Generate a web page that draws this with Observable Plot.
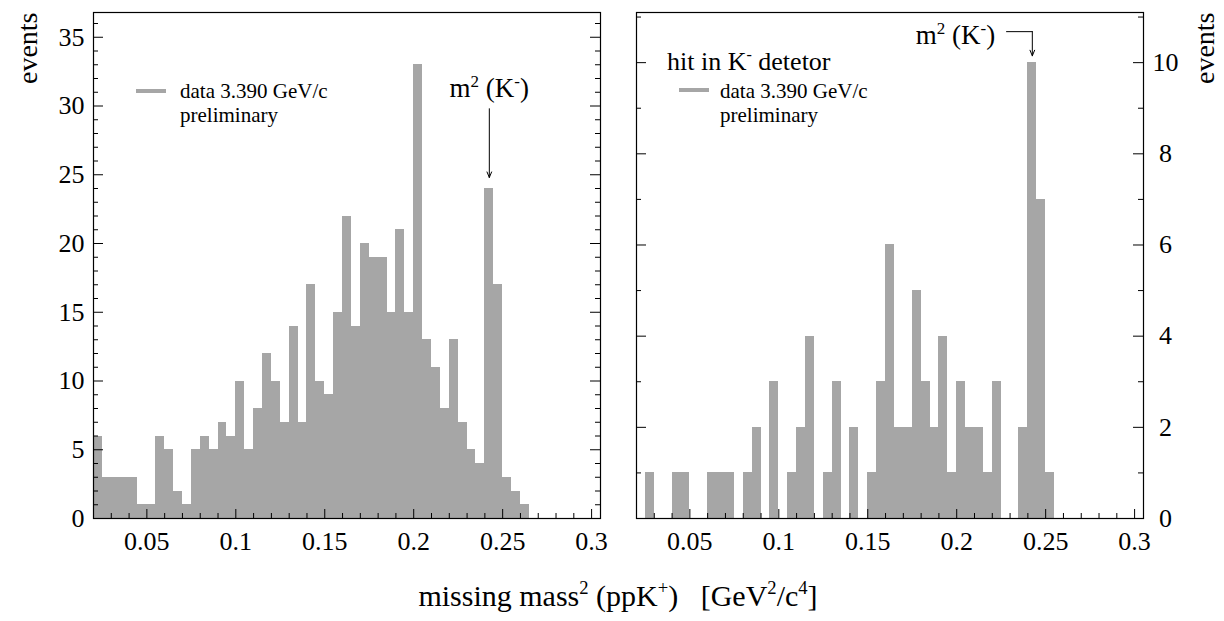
<!DOCTYPE html>
<html>
<head>
<meta charset="utf-8">
<script src="https://cdn.jsdelivr.net/npm/d3@7"></script>
<script src="https://cdn.jsdelivr.net/npm/@observablehq/plot@0.6"></script>
<style>
html, body { margin:0; padding:0; background:#fff; }
#wrap { position:relative; width:1224px; height:621px; overflow:hidden; font-family:"Liberation Serif","Times New Roman",serif; color:#000; }
.panel { position:absolute; top:0; }
.panel svg { overflow:visible; font-family:"Liberation Serif","Times New Roman",serif !important; }
.panel svg text, .panel svg g { font-family:"Liberation Serif","Times New Roman",serif !important; font-variant:normal !important; font-variant-numeric:normal !important; }
.lg { position:absolute; font-size:21px; line-height:24px; white-space:nowrap; }
.sw { position:absolute; width:30px; height:4px; background:#a6a6a6; }
.ttl { position:absolute; font-size:26px; line-height:28px; white-space:nowrap; }
sup { font-size:0.62em; line-height:0; vertical-align:0; position:relative; top:-0.62em; }
#xtitle { position:absolute; top:580px; left:0; width:1236px; text-align:center; font-size:30px; line-height:32px; white-space:pre; }
</style>
</head>
<body>
<div id="wrap">
  <div id="left" class="panel" style="left:0px"></div>
  <div id="right" class="panel" style="left:612px"></div>
  <div class="sw" style="left:136px; top:89px"></div>
  <div class="lg" id="lgL" style="left:180px; top:79px"></div>
  <div class="ttl" id="ttlR" style="left:667px; top:48px"></div>
  <div class="sw" style="left:679px; top:88px"></div>
  <div class="lg" id="lgR" style="left:720px; top:79px"></div>
  <div id="xtitle"></div>
</div>
<script>
// ---------------- data ----------------
const binStart = 0.02;
const binWidth = 0.005;
const xDomain = [0.02, 0.305];

// all events (left panel), bins of 0.005 starting at 0.02
const countsAll = [6,3,3,3,3,1,1,6,5,2, 1,5,6,5,7,6,10,5,8,12, 10,7,14,7,17,10,9,15,22,14, 20,19,19,15,21,15,33,13,11,8, 13,7,5,4,24,17,3,2,1,0, 0,0,0,0,0,0,0];
// events with a hit in the K- detector (right panel)
const countsKhit = [0,1,0,0,1,1,0,0,1,1, 1,0,1,2,0,3,0,1,2,4, 0,1,3,0,2,0,1,3,6,2, 2,5,3,2,4,1,3,2,2,1, 3,0,0,2,10,7,1,0,0,0, 0,0,0,0,0,0,0];

const xTickLabels = [0.05, 0.1, 0.15, 0.2, 0.25, 0.3];
const leftYTickLabels = [0, 5, 10, 15, 20, 25, 30, 35];
const rightYTickLabels = [0, 2, 4, 6, 8, 10];
const leftYMax = 36.8;
const rightYMax = 11.1;

const legendLabel = "data 3.390 GeV/c";
const legendNote = "preliminary";
const yTitle = "events";
const peakLabel = [["m", false], ["2", true], [" (K", false], ["-", true], [")", false]];
const peakBin = 44; // bin holding the K- mass peak

// ---------------- helpers ----------------
const serif = '"Liberation Serif", "Times New Roman", serif';
const fw = 507, fh = 506;
const toBins = counts => counts.map((c, i) => ({x1: binStart + i * binWidth, x2: binStart + (i + 1) * binWidth, c}));
const peakX = binStart + (peakBin + 0.5) * binWidth;

function tickMarks(majors, minors, xMaj, xMin, sides) {
  const m = [];
  for (const side of sides) {
    m.push(Plot.tickY(majors, {y: d => d, stroke: "#000", strokeWidth: 1,
      insetLeft: side === "right" ? fw - 10 : 0, insetRight: side === "left" ? fw - 10 : 0}));
    m.push(Plot.tickY(minors, {y: d => d, stroke: "#000", strokeWidth: 1,
      insetLeft: side === "right" ? fw - 5 : 0, insetRight: side === "left" ? fw - 5 : 0}));
  }
  m.push(Plot.tickX(xMaj, {x: d => d, stroke: "#000", strokeWidth: 1, insetTop: fh - 9}));
  m.push(Plot.tickX(xMin, {x: d => d, stroke: "#000", strokeWidth: 1, insetTop: fh - 5}));
  return m;
}
const xMinor = d3.range(2, 31).filter(i => i % 5 !== 0).map(i => i / 100);
const fmtX = d => String(d);
const peakText = peakLabel.map(p => p[0]).join("");

function richify(svg) {
  d3.select(svg).selectAll("text").filter(function () { return this.textContent === peakText; }).each(function () {
    const t = d3.select(this);
    t.text(null);
    let raised = false;
    for (const [s, sup] of peakLabel) {
      const sp = t.append("tspan").text(s);
      if (sup) {
        sp.attr("font-size", "17px");
        if (!raised) { sp.attr("dy", "-10"); raised = true; }
      } else if (raised) { sp.attr("dy", "10"); raised = false; }
    }
  });
}
function serifAll(svg) {
  d3.select(svg).selectAll("text, g").attr("font-family", serif).style("font-family", serif).style("font-variant", "normal");
}

const common = {
  width: 612, height: 560, marginTop: 12, marginBottom: 42,
  style: {fontFamily: serif, fontSize: "26px", background: "transparent", overflow: "visible"}
};
const axisFont = {fontSize: 26, fontFamily: serif, fontVariant: "normal"};

// ---------------- left panel ----------------
const leftMinorY = d3.range(0, 37).filter(v => v % 5 !== 0);
const leftPlot = Plot.plot({
  ...common,
  marginLeft: 93, marginRight: 12,
  x: {domain: xDomain, axis: null},
  y: {domain: [0, leftYMax], axis: null},
  marks: [
    Plot.rectY(toBins(countsAll), {x1: "x1", x2: "x2", y: "c", fill: "#a6a6a6", shapeRendering: "crispEdges"}),
    Plot.frame({stroke: "#000", strokeWidth: 1.2}),
    ...tickMarks(leftYTickLabels, leftMinorY, xTickLabels, xMinor, ["left", "right"]),
    Plot.axisY({anchor: "left", ticks: leftYTickLabels, tickSize: 0, tickPadding: 9, label: null, tickFormat: d => String(d), ...axisFont}),
    Plot.axisX({anchor: "bottom", ticks: xTickLabels, tickSize: 0, tickPadding: 13, label: null, tickFormat: fmtX, ...axisFont}),
    Plot.text([yTitle], {frameAnchor: "top-left", text: d => d, rotate: -90, textAnchor: "end", lineAnchor: "middle", dx: -65, dy: 0, fontSize: 28}),
    Plot.text([countsAll[peakBin]], {x: peakX, y: d => d + 7.3, text: () => peakText, textAnchor: "middle", lineAnchor: "middle", fontSize: 27}),
    Plot.arrow([countsAll[peakBin]], {x1: peakX, x2: peakX, y1: d => d + 5.8, y2: d => d + 0.8, stroke: "#000", strokeWidth: 1, headLength: 9, headAngle: 45})
  ]
});
richify(leftPlot);
serifAll(leftPlot);
document.getElementById("left").append(leftPlot);

// ---------------- right panel ----------------
const rightMinorY = d3.range(0, 12).filter(v => v % 2 !== 0);
const hookX = peakX - 0.0145;
const rightPlot = Plot.plot({
  ...common,
  marginLeft: 24, marginRight: 81,
  x: {domain: xDomain, axis: null},
  y: {domain: [0, rightYMax], axis: null},
  marks: [
    Plot.rectY(toBins(countsKhit), {x1: "x1", x2: "x2", y: "c", fill: "#a6a6a6", shapeRendering: "crispEdges"}),
    Plot.frame({stroke: "#000", strokeWidth: 1.2}),
    ...tickMarks(rightYTickLabels, rightMinorY, xTickLabels, xMinor, ["left", "right"]),
    Plot.axisY({anchor: "right", ticks: rightYTickLabels, tickSize: 0, tickPadding: 22, textAnchor: "middle", label: null, tickFormat: d => String(d), ...axisFont}),
    Plot.axisX({anchor: "bottom", ticks: xTickLabels, tickSize: 0, tickPadding: 13, label: null, tickFormat: fmtX, ...axisFont}),
    Plot.text([yTitle], {frameAnchor: "top-right", text: d => d, rotate: -90, textAnchor: "end", lineAnchor: "middle", dx: 62, dy: 0, fontSize: 28}),
    Plot.text([countsKhit[peakBin]], {x: peakX - 0.0432, y: d => d + 0.6, text: () => peakText, textAnchor: "middle", lineAnchor: "middle", fontSize: 27}),
    Plot.line([[hookX, countsKhit[peakBin] + 0.68], [peakX, countsKhit[peakBin] + 0.68]], {stroke: "#000", strokeWidth: 1}),
    Plot.arrow([countsKhit[peakBin]], {x1: peakX, x2: peakX, y1: d => d + 0.68, y2: d => d + 0.15, stroke: "#000", strokeWidth: 1, headLength: 9, headAngle: 45})
  ]
});
richify(rightPlot);
serifAll(rightPlot);
document.getElementById("right").append(rightPlot);

// ---------------- html texts ----------------
document.getElementById("lgL").innerHTML = `${legendLabel}<br>${legendNote}`;
document.getElementById("lgR").innerHTML = `${legendLabel}<br>${legendNote}`;
document.getElementById("ttlR").innerHTML = `hit in K<sup>-</sup> detetor`;
document.getElementById("xtitle").innerHTML = `missing mass<sup>2</sup> (ppK<sup>+</sup>)   [GeV<sup>2</sup>/c<sup>4</sup>]`;
</script>
</body>
</html>
